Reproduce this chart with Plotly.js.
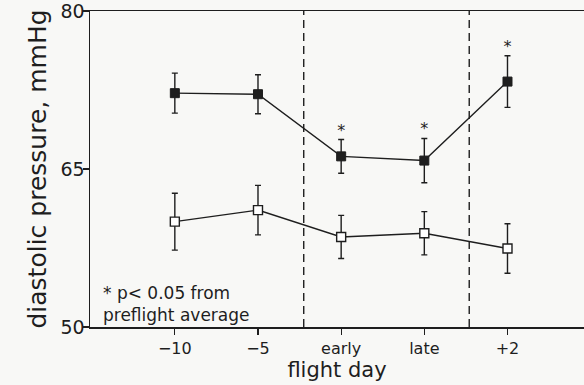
<!DOCTYPE html>
<html>
<head>
<meta charset="utf-8">
<script src="https://cdn.plot.ly/plotly-3.0.1.min.js"></script>
<style>html,body{margin:0;padding:0;background:#f8f8f6;}#chart{width:584px;height:385px;}</style>
</head>
<body>
<div id="chart"></div>
<script>
// Data
const flightDays = ['\u221210', '\u22125', 'early', 'late', '+2'];
const filledMeans = [72.2, 72.1, 66.2, 65.8, 73.3];
const filledErr = [1.9, 1.85, 1.6, 2.1, 2.45];
const openMeans = [60.0, 61.1, 58.55, 58.9, 57.45];
const openErr = [2.7, 2.35, 2.05, 2.05, 2.35];
const significant = ['', '', '*', '*', '*'];
const yTicks = [50, 65, 80];
const phaseBoundaries = [1.55, 3.54];

const ink = '#1e1e1e';
const font = 'DejaVu Sans, sans-serif';
const xIdx = flightDays.map((d, i) => i);

const traces = [
  {
    x: xIdx, y: filledMeans, type: 'scatter', mode: 'lines+markers',
    line: {color: ink, width: 1.4},
    marker: {symbol: 'square', size: 9, color: ink, line: {color: ink, width: 1}},
    error_y: {type: 'data', array: filledErr, visible: true, color: ink, thickness: 1.4, width: 3},
    cliponaxis: false, hoverinfo: 'skip'
  },
  {
    x: xIdx, y: openMeans, type: 'scatter', mode: 'lines+markers',
    line: {color: ink, width: 1.4},
    marker: {symbol: 'square', size: 9, color: '#ffffff', line: {color: ink, width: 1.4}},
    error_y: {type: 'data', array: openErr, visible: true, color: ink, thickness: 1.4, width: 3},
    cliponaxis: false, hoverinfo: 'skip'
  },
  {
    x: xIdx, y: filledMeans.map((m, i) => m + filledErr[i]), type: 'scatter', mode: 'text',
    text: significant, textposition: 'top center',
    textfont: {family: font, size: 16, color: ink},
    cliponaxis: false, hoverinfo: 'skip'
  }
];

const layout = {
  width: 584, height: 385,
  margin: {l: 90, r: 0, t: 11, b: 58},
  paper_bgcolor: '#f8f8f6', plot_bgcolor: '#f8f8f6',
  showlegend: false,
  font: {family: font, color: ink},
  xaxis: {
    range: [-1.02, 4.92],
    tickvals: xIdx, ticktext: flightDays,
    ticks: 'outside', ticklen: 6, tickwidth: 1.3, tickcolor: ink,
    showline: true, linecolor: ink, linewidth: 1.5, mirror: true,
    showgrid: false, zeroline: false,
    tickfont: {family: font, size: 16, color: ink},
    title: {text: 'flight day', font: {family: font, size: 21, color: ink}, standoff: 4}
  },
  yaxis: {
    range: [50, 80],
    tickvals: yTicks,
    ticks: 'outside', ticklen: 6, tickwidth: 1.3, tickcolor: ink,
    showline: true, linecolor: ink, linewidth: 1.5,
    showgrid: false, zeroline: false,
    ticklabeloverflow: 'allow', ticklabelstandoff: -6,
    tickfont: {family: font, size: 19, color: ink},
    title: {text: 'diastolic pressure, mmHg', font: {family: font, size: 25, color: ink}, standoff: 7}
  },
  shapes: phaseBoundaries.map(b => ({
    type: 'line', xref: 'x', yref: 'paper', x0: b, x1: b, y0: 0, y1: 1,
    line: {color: ink, width: 1.4, dash: '8px,5px'}
  })),
  annotations: [{
    xref: 'paper', yref: 'paper', x: 0.023, y: 0.0, xanchor: 'left', yanchor: 'bottom',
    text: '* p< 0.05 from<br>preflight average', align: 'left', showarrow: false,
    font: {family: font, size: 17, color: ink}
  }]
};

Plotly.newPlot('chart', traces, layout, {displayModeBar: false, staticPlot: true});
</script>
</body>
</html>
